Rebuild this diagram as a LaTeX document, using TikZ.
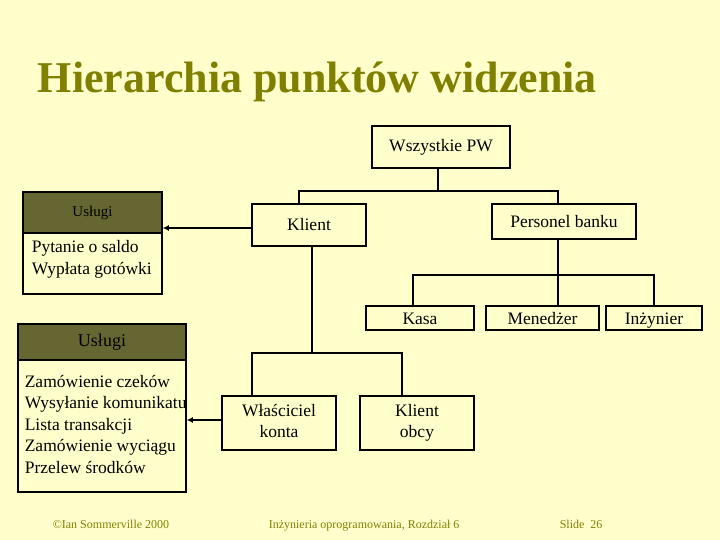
\documentclass[tikz,border=0pt]{standalone}
\usepackage{fontspec}
\setmainfont{Liberation Serif}
\usetikzlibrary{arrows.meta, positioning}
\definecolor{cpaper}{HTML}{FFFFCC}
\definecolor{colive}{HTML}{808000}
\definecolor{chead}{HTML}{666633}
\tikzset{
  every picture/.style={line width=1.6pt},
  box/.style={draw, rectangle, align=center, inner sep=0pt, font=\fontsize{17.5}{21}\selectfont},
  arrow/.style={-{Latex[length=6pt, width=6pt]}, line width=1.6pt},
  link/.style={line width=1.6pt},
  title/.style={font=\fontsize{44}{48}\selectfont\bfseries, text=colive, anchor=base west, inner sep=0pt},
  note/.style={font=\fontsize{12}{14}\selectfont, text=colive, anchor=base west, inner sep=0pt},
}

\begin{document}
\begin{tikzpicture}[x=1pt, y=-1pt,
  row/.style={box, minimum height=24, text height=15pt, text depth=3pt},
  pair/.style={box, minimum width=114, minimum height=54, text depth=4pt},
  head/.style={draw, fill=chead, inner sep=0pt},
  list/.style={anchor=north west, align=left, inner sep=0pt, font=\fontsize{17.5}{21.5}\selectfont}]
  \fill[cpaper] (0,0) rectangle (720,540);
  \useasboundingbox (0,0) rectangle (720,540);
  \node[title] (title) at (37,93) {Hierarchia punktów widzenia};
  % ---------- hierarchy ----------
  \node[box, minimum width=138, minimum height=42] (all) at (441,147) {Wszystkie PW};
  \node[box, minimum width=114, minimum height=42] (klient) at (309,225) {Klient};
  \node[box, minimum width=144, minimum height=35] (personel) at (564,221.5) {Personel banku};
  \node[row, minimum width=108] (kasa) at (420,318) {Kasa};
  \node[row, minimum width=113] (menedzer) at (542.5,318) {Menedżer};
  \node[row, minimum width=96] (inzynier) at (654,318) {Inżynier};
  \node[pair] (wlasc) at (279,423) {Właściciel\\konta};
  \node[pair] (obcy) at (417,423) {Klient\\obcy};
  \coordinate (j1) at (438,191);
  \coordinate (j2) at (558,275);
  \coordinate (j3) at (312,353);
  \draw[link] ([xshift=-3pt]all.south) -- (j1);
  \draw[link] ([xshift=-10pt]klient.north) |- (j1) -| ([xshift=-6pt]personel.north);
  \draw[link] ([xshift=-6pt]personel.south) -- (menedzer.north -| j2);
  \draw[link] ([xshift=-7pt]kasa.north) |- (j2) -| (inzynier.north);
  \draw[link] ([xshift=3pt]klient.south) -- (j3);
  \draw[link] ([xshift=-27pt]wlasc.north) |- (j3) -| ([xshift=-15pt]obcy.north);
  % ---------- services ----------
  \node[head, minimum width=139, minimum height=41, font=\fontsize{15}{17}\selectfont] (head1) at (92.5,212.5) {Usługi};
  \node[draw, minimum width=139, minimum height=61] (body1) at (92.5,263.5) {};
  \node[list, font=\fontsize{17.5}{22}\selectfont] (text1) at (31,240) {Pytanie o saldo\\Wypłata gotówki};
  \node[head, minimum width=168, minimum height=36, font=\fontsize{18}{20}\selectfont] (head2) at (102,342) {Usługi};
  \node[draw, minimum width=168, minimum height=132] (body2) at (102,426) {};
  \node[list] (text2) at (24,374.5) {Zamówienie czeków\\Wysyłanie komunikatu\\Lista transakcji\\Zamówienie wyciągu\\Przelew środków};
  \draw[arrow] ([yshift=-3pt]klient.west) -- (head1.east |- 0,228);
  \draw[arrow] ([yshift=3pt]wlasc.west) -- (body2.east |- 0,420);
  % ---------- footer ----------
  \node[note] (copy) at (52,528) {©Ian Sommerville 2000};
  \node[note] (book) at (268,528) {Inżynieria oprogramowania, Rozdział 6};
  \node[note] (slide) at (559,528) {Slide\ \ 26};
\end{tikzpicture}
\end{document}
